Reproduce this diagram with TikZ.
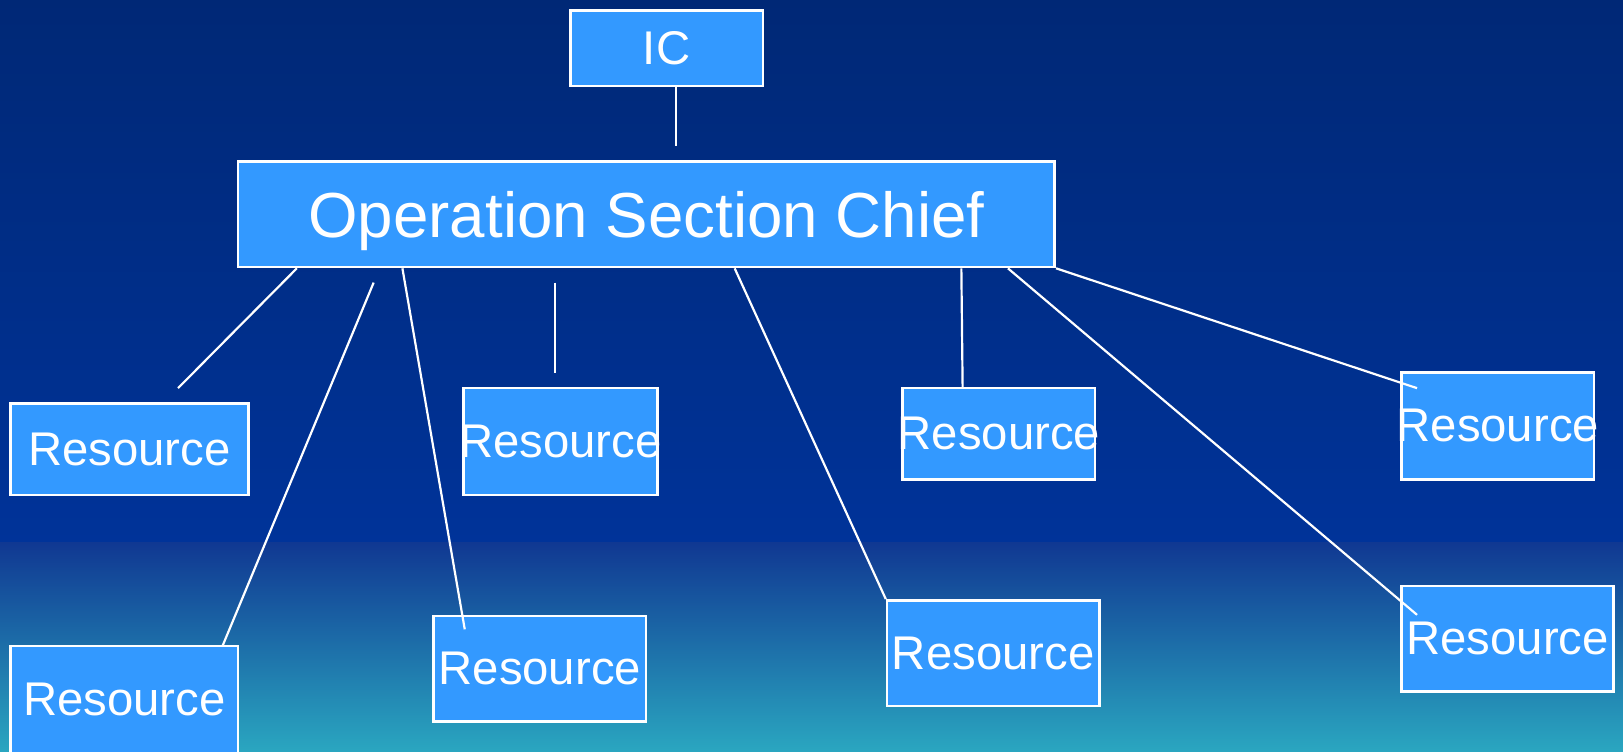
\documentclass[tikz,border=0pt]{standalone}
\usepackage{fontspec}
\setmainfont{Liberation Sans}
\usetikzlibrary{calc}

\definecolor{skytop}{RGB}{0,40,118}
\definecolor{skymid}{RGB}{0,51,153}
\definecolor{seatop}{RGB}{16,56,146}
\definecolor{seabot}{RGB}{42,166,192}
\definecolor{boxblue}{RGB}{51,153,255}

% text that may run past the edge of its box
\newcommand{\restext}{\makebox[0pt]{Resource}}

\begin{document}
\begin{tikzpicture}[
    res/.style={draw=white, line width=0.7pt, fill=boxblue, text=white,
      inner sep=0pt, font=\fontsize{13}{15}\selectfont},
    link/.style={draw=white, line width=0.6pt}]
  \clip (0,0) rectangle (15.68,7.2555);
  % background
  \shade[top color=skytop, bottom color=skymid] (0,2.0155) rectangle (15.68,7.2555);
  \shade[top color=seatop, bottom color=seabot] (0,0) rectangle (15.68,2.0155);

  \node[res, minimum width=1.86cm, minimum height=0.73cm] (ic) at (6.44,6.79) {IC};
  \node[res, minimum width=7.89cm, minimum height=1.02cm, text depth=0pt,
    font=\fontsize{17.5}{20}\selectfont] (osc) at (6.245,5.1855) {Operation Section Chief};

  \node[res, minimum width=2.30cm, minimum height=0.88cm] (r1) at (1.25,2.9155) {\restext};
  \node[res, minimum width=2.20cm, minimum height=1.04cm] (r2) at (1.20,0.4955) {\restext};
  \node[res, minimum width=1.87cm, minimum height=1.03cm] (r3) at (5.415,2.9905) {\restext};
  \node[res, minimum width=2.05cm, minimum height=1.02cm] (r4) at (5.215,0.7955) {\restext};
  \node[res, minimum width=1.86cm, minimum height=0.88cm] (r5) at (9.65,3.0655) {\restext};
  \node[res, minimum width=2.05cm, minimum height=1.02cm] (r6) at (9.595,0.9455) {\restext};
  \node[res, minimum width=1.86cm, minimum height=1.03cm] (r7) at (14.47,3.1405) {\restext};
  \node[res, minimum width=2.05cm, minimum height=1.02cm] (r8) at (14.565,1.0855) {\restext};

  % loose ends of the links
  \coordinate (icfoot) at ($(ic.south)+(0.09,0)$);
  \coordinate (ichead) at (6.53,5.8455);
  \coordinate (a1) at ($(osc.south west)+(0.58,0)$);
  \coordinate (b1) at (1.72,3.5055);
  \coordinate (a2) at (3.61,4.5255);
  \coordinate (b2) at (2.15,1.0155);
  \coordinate (a3) at ($(osc.south west)+(1.60,0)$);
  \coordinate (b3) at (4.49,1.1755);
  \coordinate (a4) at (5.36,4.5255);
  \coordinate (b4) at (5.36,3.6555);
  \coordinate (a5) at ($(osc.south west)+(4.81,0)$);
  \coordinate (a6) at ($(osc.south west)+(7.00,0)$);
  \coordinate (b6) at (9.30,3.5055);
  \coordinate (a7) at ($(osc.south west)+(7.45,0)$);
  \coordinate (b7) at (13.69,1.3155);
  \coordinate (b8) at (13.69,3.5055);

  \draw[link] (icfoot) -- (ichead);
  \draw[link] (a1) -- (b1);
  \draw[link] (a2) -- (b2);
  \draw[link] (a3) -- (b3);
  \draw[link] (a4) -- (b4);
  \draw[link] (a5) -- (r6.north west);
  \draw[link] (a6) -- (b6);
  \draw[link] (a7) -- (b7);
  \draw[link] (osc.south east) -- (b8);
\end{tikzpicture}
\end{document}
